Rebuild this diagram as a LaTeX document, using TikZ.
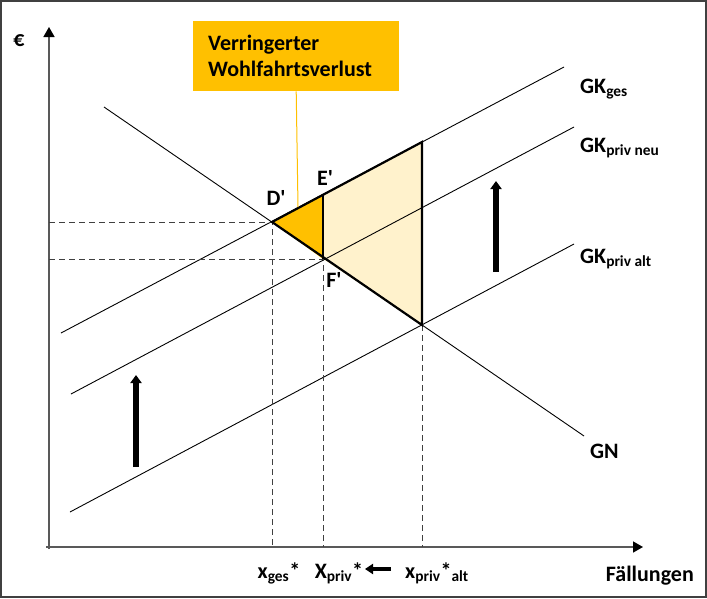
\documentclass[tikz,border=0pt]{standalone}
\usepackage{fontspec}
\setmainfont{Carlito}
\usetikzlibrary{arrows.meta}
\definecolor{gold}{HTML}{FFC000}
\definecolor{hellgold}{HTML}{FFF2CC}
\definecolor{achsgrau}{HTML}{595959}
\begin{document}
\begin{tikzpicture}[x=1pt,y=-1pt,font=\fontsize{22}{26}\selectfont\bfseries,
kurve/.style={line width=0.9pt},
hilfslinie/.style={black!75,line width=0.9pt,dash pattern=on 6pt off 4pt},
dick/.style={line width=2.2pt},
achse/.style={achsgrau,line width=1.5pt,-{Triangle[width=11pt,length=10pt,color=black]}},
schub/.style={line width=5.5pt,-{Triangle[width=11pt,length=8pt]}},
lab/.style={inner sep=0pt,anchor=base}]
\useasboundingbox(0,0)rectangle(707,598);
\draw[black!75,line width=2pt](1,1)rectangle(706,597);
\coordinate(D)at(272,222);\coordinate(E)at(323,195);\coordinate(F)at(323,259);
\coordinate(T)at(422,142);\coordinate(B)at(422,325);
\fill[hellgold](E)--(T)--(B)--(F)--cycle;
\fill[gold](D)--(E)--(F)--cycle;
\draw[achse](46,547)--(643,547);
\draw[achse](49,549)--(49,27);
\draw[kurve](104,107)--(584,436);
\draw[kurve](61,333)--(564,67);
\draw[kurve](71,394)--(574,127);
\draw[kurve](70,512)--(574,244);
\draw[hilfslinie](49,222)--(D)--(272,547);
\draw[hilfslinie](49,259)--(F)--(323,547);
\draw[hilfslinie](B)--(422,547);
\draw[dick](T)--(D)--(B)--cycle;
\draw[line width=1.5pt](E)--(F);
\draw[schub](136,467)--(136,375);
\draw[schub](496,272)--(496,181);
\node[fill=gold,anchor=north west,minimum width=206pt,minimum height=70pt,inner xsep=15pt,inner ysep=0pt,text width=176pt,align=left](wv)at(193,21){Verringerter\\Wohlfahrtsverlust};
\coordinate(zeiger)at(298,207);
\draw[gold,line width=1pt](wv.south)--(zeiger);
\node[lab]at(19,46){€};
\node[lab]at(276,205){D\textquotesingle};
\node[lab]at(325,185){E\textquotesingle};
\node[lab]at(334,287){F\textquotesingle};
\node[lab,anchor=base west]at(580,93){GK\textsubscript{ges}};
\node[lab,anchor=base west]at(580,152){GK\textsubscript{priv neu}};
\node[lab,anchor=base west]at(580,263){GK\textsubscript{priv alt}};
\node[lab,anchor=base west]at(590,458){GN};
\node[lab](xges)at(279,578){x\textsubscript{ges}*};
\node[lab](xpriv)at(339,578){X\textsubscript{priv}*};
\node[lab](xalt)at(437,578){x\textsubscript{priv}*\textsubscript{alt}};
\node[lab,anchor=base east](fall)at(694,581){Fällungen};
\draw[line width=4pt,-{Triangle[width=10pt,length=8pt]}](xalt.base west)++(-14,-9)--++(-26,0);
\end{tikzpicture}
\end{document}
